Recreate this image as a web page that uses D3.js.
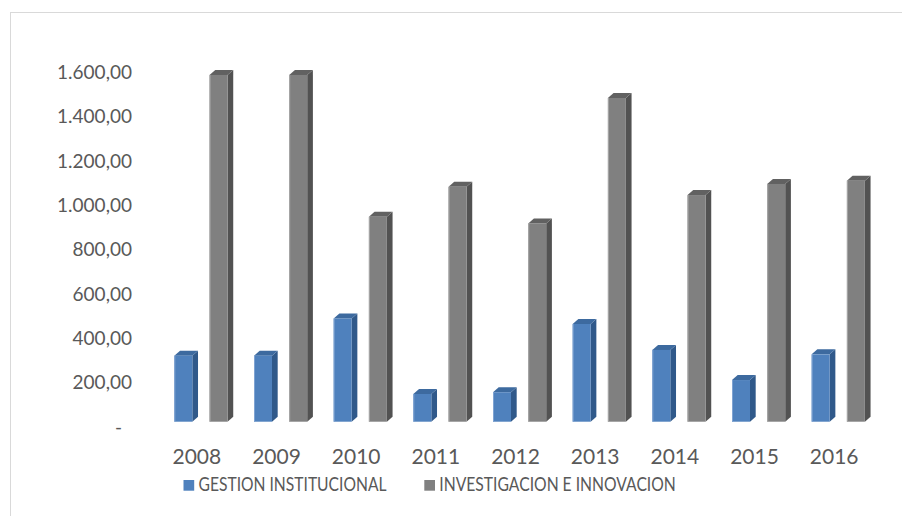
<!DOCTYPE html>
<html>
<head>
<meta charset="utf-8">
<script src="https://cdn.jsdelivr.net/npm/d3@7/dist/d3.min.js"></script>
<style>
  html, body { margin: 0; padding: 0; background: #ffffff; }
  svg { display: block; }
  text { font-family: Lato, "Open Sans", sans-serif; fill: #595959; }
</style>
</head>
<body>
<svg id="chart" width="902" height="516"></svg>
<script>
// Years on the category axis
const years = ["2008", "2009", "2010", "2011", "2012", "2013", "2014", "2015", "2016"];
// Series names shown in the legend
const seriesNames = ["GESTION INSTITUCIONAL", "INVESTIGACION E INNOVACION"];
// Series values per year
const gestionInstitucional = [298, 298, 466, 125, 133, 441, 324, 188, 304];
const investigacionInnovacion = [1565, 1565, 925, 1060, 895, 1461, 1023, 1073, 1088];
// Value-axis ticks
const yTicks = [0, 200, 400, 600, 800, 1000, 1200, 1400, 1600];

const svg = d3.select("#chart");

// Face colours for the 3D columns: front, side, top, edge highlight
const palette = {
  [seriesNames[0]]: { front: "#4f81bd", side: "#30598a", top: "#3d6a9f", edge: "#7fa3d2" },
  [seriesNames[1]]: { front: "#808080", side: "#525252", top: "#616161", edge: "#a8a8a8" }
};

// Outer chart frame (extends past right and bottom edges)
svg.append("rect")
  .attr("x", 10.5).attr("y", 12.5)
  .attr("width", 920).attr("height", 540)
  .attr("fill", "none").attr("stroke", "#d9d9d9").attr("stroke-width", 1);

const x0 = d3.scaleBand().domain(years).range([157, 874]).padding(0);
const x1 = d3.scaleBand().domain(seriesNames).range([-22.5, 30.7]).paddingInner(0.489);
const y = d3.scaleLinear().domain([0, 1600]).range([421.7, 67.2]);

const depthX = 5.7, depthY = 5;

// Value axis
const loc = d3.formatLocale({ decimal: ",", thousands: ".", grouping: [3], currency: ["", ""] });
const fmt = loc.format(",.2f");
const yAxis = svg.append("g")
  .attr("transform", "translate(132,5.3)")
  .call(d3.axisLeft(y).tickValues(yTicks).tickSize(0).tickPadding(0)
    .tickFormat(d => d === 0 ? "-" : fmt(d)));
yAxis.select(".domain").remove();
yAxis.selectAll("text")
  .style("font-family", "Lato, 'Open Sans', sans-serif")
  .style("font-size", "19px")
  .attr("fill", "#595959")
  .attr("dx", d => d === 0 ? "-10" : null);

// Category axis
const xAxis = svg.append("g")
  .attr("transform", "translate(0,449)")
  .call(d3.axisBottom(x0).tickSize(0).tickPadding(0));
xAxis.select(".domain").remove();
xAxis.selectAll("text")
  .style("font-family", "Lato, 'Open Sans', sans-serif")
  .style("font-size", "21px")
  .attr("fill", "#595959");

// Columns
const rows = years.map((yr, i) => ({
  year: yr,
  values: [
    { key: seriesNames[0], value: gestionInstitucional[i] },
    { key: seriesNames[1], value: investigacionInnovacion[i] }
  ]
}));

const w = x1.bandwidth();
const groups = svg.append("g").selectAll("g")
  .data(rows).join("g")
  .attr("transform", d => `translate(${x0(d.year) + x0.bandwidth() / 2},0)`);

const bars = groups.selectAll("g.bar")
  .data(d => d.values).join("g").attr("class", "bar");

// side face
bars.append("path")
  .attr("fill", d => palette[d.key].side)
  .attr("d", d => {
    const xl = x1(d.key), t = y(d.value), b = y(0);
    return `M${xl + w},${t}L${xl + w + depthX},${t - depthY}L${xl + w + depthX},${b - depthY}L${xl + w},${b}Z`;
  });
// top face
bars.append("path")
  .attr("fill", d => palette[d.key].top)
  .attr("d", d => {
    const xl = x1(d.key), t = y(d.value);
    return `M${xl},${t}L${xl + depthX},${t - depthY}L${xl + w + depthX},${t - depthY}L${xl + w},${t}Z`;
  });
// front face
bars.append("rect")
  .attr("x", d => x1(d.key))
  .attr("y", d => y(d.value))
  .attr("width", w)
  .attr("height", d => y(0) - y(d.value))
  .attr("fill", d => palette[d.key].front);
// light left edge
bars.append("line")
  .attr("x1", d => x1(d.key) + 0.5).attr("x2", d => x1(d.key) + 0.5)
  .attr("y1", d => y(d.value)).attr("y2", y(0))
  .attr("stroke", d => palette[d.key].edge).attr("stroke-width", 1);

// Legend
const legendItems = [
  { key: seriesNames[0], x: 183.5, len: 188 },
  { key: seriesNames[1], x: 424.3, len: 236.5 }
];
const lg = svg.append("g").selectAll("g").data(legendItems).join("g");
lg.append("rect")
  .attr("x", d => d.x).attr("y", 480)
  .attr("width", 10.7).attr("height", 10.7)
  .attr("fill", d => palette[d.key].front);
lg.append("text")
  .attr("x", d => d.x + 15).attr("y", 491)
  .style("font-size", "19.5px")
  .attr("textLength", d => d.len)
  .attr("lengthAdjust", "spacingAndGlyphs")
  .text(d => d.key);
</script>
</body>
</html>
